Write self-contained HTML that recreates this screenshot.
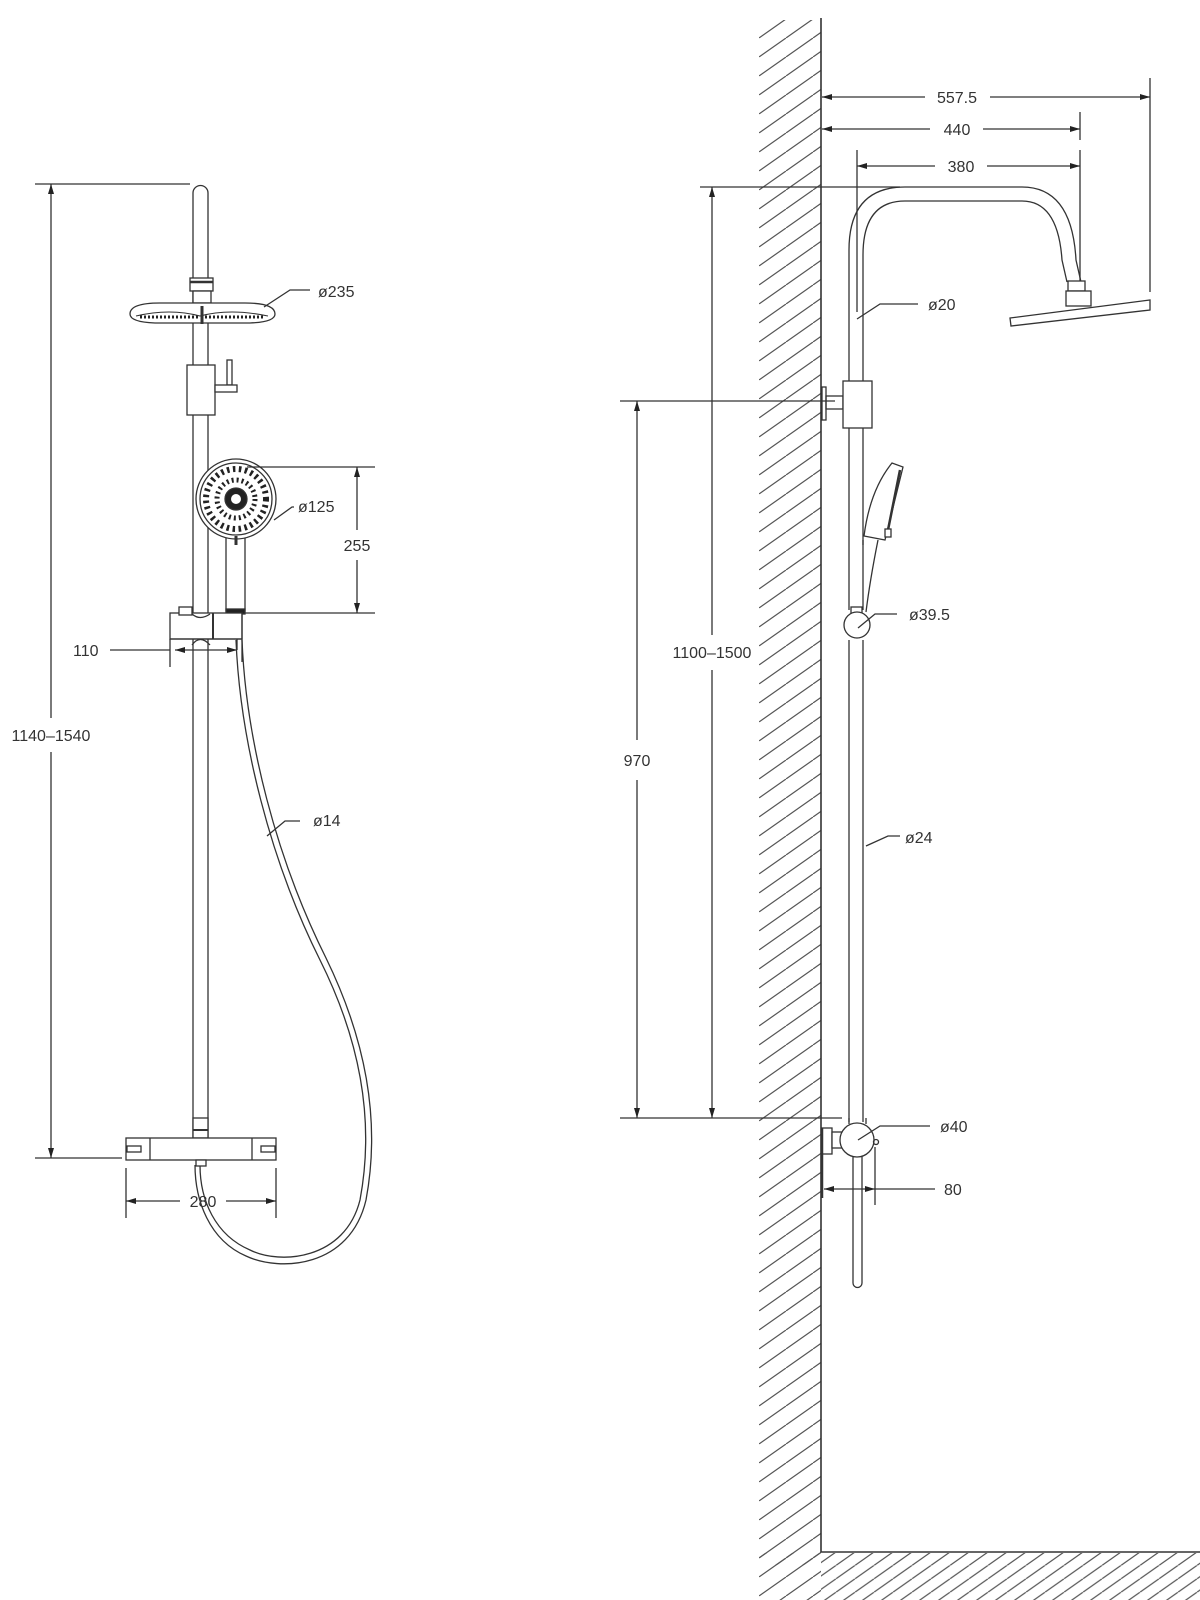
<!DOCTYPE html>
<html><head><meta charset="utf-8"><style>
html,body{margin:0;padding:0;background:#fff}
svg{display:block}
text{font-family:"Liberation Sans",sans-serif;font-size:16px;fill:#333}
</style></head><body>
<svg width="1200" height="1600" viewBox="0 0 1200 1600" xmlns="http://www.w3.org/2000/svg">
<defs>
<pattern id="hw" patternUnits="userSpaceOnUse" width="27" height="19" x="759" y="0">
<line x1="0" y1="19" x2="27" y2="0" stroke="#555" stroke-width="1.2"/>
<line x1="-27" y1="19" x2="0" y2="0" stroke="#555" stroke-width="1.2"/>
<line x1="27" y1="19" x2="54" y2="0" stroke="#555" stroke-width="1.2"/>
</pattern>
<pattern id="hf" patternUnits="userSpaceOnUse" width="19" height="13.4" x="0" y="1552">
<line x1="0" y1="13.4" x2="19" y2="0" stroke="#555" stroke-width="1.2"/>
<line x1="-19" y1="13.4" x2="0" y2="0" stroke="#555" stroke-width="1.2"/>
<line x1="19" y1="13.4" x2="38" y2="0" stroke="#555" stroke-width="1.2"/>
</pattern>
<marker id="ar" markerWidth="10" markerHeight="6" refX="10" refY="3" orient="auto-start-reverse" markerUnits="userSpaceOnUse">
<path d="M0,0 L10,3 L0,6 z" fill="#222"/>
</marker>
</defs>
<g fill="none" stroke="#333" stroke-width="1.3">
<!-- ========== LEFT VIEW ========== -->
<!-- overall dim -->
<line x1="35" y1="184" x2="190" y2="184"/>
<line x1="35" y1="1158" x2="122" y2="1158"/>
<line x1="51" y1="184" x2="51" y2="718" marker-start="url(#ar)"/>
<line x1="51" y1="752" x2="51" y2="1158" marker-end="url(#ar)"/>
<!-- rail -->
<path d="M193,1138 V193 A7.5,7.5 0 0 1 208,193 V1138"/>
<rect x="190" y="278" width="23" height="13" fill="#fff"/>
<line x1="190" y1="282" x2="213" y2="282" stroke-width="2.5"/>
<!-- rain head -->
<rect x="193" y="291" width="18" height="12" fill="#fff"/>
<path d="M130,314 Q130,303 160,303 L245,303 Q275,303 275,314 Q275,322 250,323 L155,323 Q130,322 130,314 Z" fill="#fff"/>
<path d="M136,316 Q170,308 200,316 Q230,308 268,316" stroke-width="1"/>
<g stroke="#222" stroke-width="3" stroke-dasharray="2 2">
<line x1="140" y1="317" x2="198" y2="317"/>
<line x1="205" y1="317" x2="265" y2="317"/>
</g>
<line x1="202" y1="306" x2="202" y2="324" stroke-width="3"/>
<!-- diverter -->
<rect x="187" y="365" width="28" height="50" fill="#fff"/>
<rect x="227" y="360" width="5" height="25" fill="#fff"/>
<rect x="215" y="385" width="22" height="7" fill="#fff"/>
<!-- hand shower -->
<path d="M226,534 L226,611 L245,611 L245,534" fill="#fff"/>
<circle cx="236" cy="499" r="40" fill="#fff"/>
<circle cx="236" cy="499" r="36"/>
<circle cx="236" cy="499" r="30" stroke="#222" stroke-width="6" stroke-dasharray="2.5 3.5"/>
<circle cx="236" cy="499" r="19" stroke="#222" stroke-width="5" stroke-dasharray="2 3"/>
<circle cx="236" cy="499" r="11" fill="#222"/>
<circle cx="236" cy="499" r="5" fill="#fff" stroke="none"/>
<line x1="236" y1="536" x2="236" y2="545" stroke-width="3"/>
<rect x="226" y="609" width="19" height="5" fill="#222"/>
<!-- 255 dim -->
<line x1="247" y1="467" x2="375" y2="467"/>
<line x1="245" y1="613" x2="375" y2="613"/>
<line x1="357" y1="467" x2="357" y2="530" marker-start="url(#ar)"/>
<line x1="357" y1="560" x2="357" y2="613" marker-end="url(#ar)"/>
<!-- slider -->
<rect x="170" y="613" width="72" height="26" fill="#fff"/>
<line x1="170" y1="639" x2="170" y2="667"/>
<line x1="237" y1="639" x2="237" y2="650"/>
<line x1="213" y1="613" x2="213" y2="639" stroke-width="2"/>
<line x1="170" y1="639" x2="242" y2="639"/>
<path d="M192,614 Q200,621 210,614" />
<path d="M192,645 Q200,634 210,645" />
<rect x="179" y="607" width="13" height="8" fill="#fff"/>
<line x1="242" y1="613" x2="242" y2="662"/>
<line x1="110" y1="650" x2="170" y2="650"/>
<line x1="175" y1="650" x2="237" y2="650" marker-start="url(#ar)" marker-end="url(#ar)"/>
<!-- hose -->
<path d="M236,640 C240,740 270,860 320,960 C360,1040 375,1120 360,1200 C345,1260 280,1265 250,1250 C215,1235 200,1200 200,1165" stroke-width="1.3"/>
<path d="M242,640 C246,740 276,858 326,958 C366,1040 381,1120 366,1200 C350,1268 280,1272 246,1256 C209,1240 195,1200 195,1165" stroke-width="1.3"/>
<!-- mixer -->
<rect x="193" y="1118" width="15" height="20" fill="#fff"/>
<line x1="193" y1="1130" x2="208" y2="1130" stroke-width="2"/>
<rect x="126" y="1138" width="150" height="22" fill="#fff"/>
<line x1="150" y1="1138" x2="150" y2="1160"/>
<line x1="252" y1="1138" x2="252" y2="1160"/>
<rect x="127" y="1146" width="14" height="6"/>
<rect x="261" y="1146" width="14" height="6"/>
<rect x="196" y="1160" width="10" height="6" fill="#fff"/>
<!-- 280 dim -->
<line x1="126" y1="1168" x2="126" y2="1218"/>
<line x1="276" y1="1168" x2="276" y2="1218"/>
<line x1="126" y1="1201" x2="180" y2="1201" marker-start="url(#ar)"/>
<line x1="226" y1="1201" x2="276" y2="1201" marker-end="url(#ar)"/>
<!-- leaders -->
<polyline points="264,307 290,290 310,290"/>
<polyline points="274,520 292,507 294,507"/>
<polyline points="267,836 285,821 300,821"/>

<!-- ========== RIGHT VIEW ========== -->
<rect x="759" y="20" width="62" height="1545" fill="url(#hw)" stroke="none"/>
<rect x="821" y="1553" width="379" height="47" fill="url(#hf)" stroke="none"/>
<rect x="759" y="1553" width="62" height="47" fill="url(#hw)" stroke="none"/>
<path d="M821,18 V1552 H1200" stroke-width="1.6"/>
<!-- top dims -->
<line x1="822" y1="97" x2="925" y2="97" marker-start="url(#ar)"/>
<line x1="990" y1="97" x2="1150" y2="97" marker-end="url(#ar)"/>
<line x1="1150" y1="78" x2="1150" y2="292"/>
<line x1="822" y1="129" x2="930" y2="129" marker-start="url(#ar)"/>
<line x1="983" y1="129" x2="1080" y2="129" marker-end="url(#ar)"/>
<line x1="1080" y1="112" x2="1080" y2="140"/>
<line x1="1080" y1="150" x2="1080" y2="302"/>
<line x1="857" y1="166" x2="935" y2="166" marker-start="url(#ar)"/>
<line x1="987" y1="166" x2="1080" y2="166" marker-end="url(#ar)"/>
<line x1="857" y1="150" x2="857" y2="312"/>
<!-- arm -->
<path d="M849,381 V250 Q849,187 905,187 L1022,187 Q1072,187 1076,260 L1081,282"/>
<path d="M863,381 V255 Q863,201 905,201 L1022,201 Q1058,201 1062,260 L1067,282"/>
<line x1="700" y1="187" x2="900" y2="187"/>
<rect x="1068" y="281" width="17" height="10" fill="#fff"/>
<rect x="1066" y="291" width="25" height="15" fill="#fff"/>
<path d="M1010,318 L1150,300 L1150,310 L1011,326 Z" fill="#fff"/>
<polyline points="857,319 880,304 918,304"/>
<!-- bracket block -->
<rect x="822" y="387" width="4" height="33"/>
<rect x="826" y="396" width="17" height="13"/>
<rect x="843" y="381" width="29" height="47" fill="#fff"/>
<line x1="620" y1="401" x2="835" y2="401"/>
<!-- rail -->
<line x1="849" y1="428" x2="849" y2="610"/>
<line x1="863" y1="428" x2="863" y2="610"/>
<line x1="849" y1="640" x2="849" y2="1122"/>
<line x1="863" y1="640" x2="863" y2="1122"/>
<!-- hand shower side -->
<path d="M864,536 Q870,490 892,463 L903,467 Q895,500 885,540 Z" fill="#fff"/>
<line x1="900" y1="470" x2="887" y2="535" stroke-width="2.5"/>
<rect x="885" y="529" width="6" height="8" fill="#fff"/>
<path d="M878,540 Q870,580 866,612"/>
<line x1="863" y1="540" x2="863" y2="545"/>
<rect x="851" y="607" width="11" height="7" fill="#fff"/>
<circle cx="857" cy="625" r="13" fill="#fff"/>
<polyline points="858,628 875,614 897,614"/>
<polyline points="866,846 888,836 900,836"/>
<!-- 1100-1500 and 970 dims -->
<line x1="712" y1="187" x2="712" y2="635" marker-start="url(#ar)"/>
<line x1="712" y1="670" x2="712" y2="1118" marker-end="url(#ar)"/>
<line x1="637" y1="401" x2="637" y2="740" marker-start="url(#ar)"/>
<line x1="637" y1="780" x2="637" y2="1118" marker-end="url(#ar)"/>
<line x1="620" y1="1118" x2="842" y2="1118"/>
<!-- bottom ball -->
<rect x="822" y="1128" width="10" height="26" fill="#fff"/>
<rect x="832" y="1132" width="11" height="16" fill="#fff"/>
<path d="M853,1283 V1155 M862,1155 V1283 A4.5,4.5 0 0 1 853,1283"/>
<circle cx="857" cy="1140" r="17" fill="#fff"/>
<path d="M849,1124 V1118 M866,1124 V1118"/>
<circle cx="876" cy="1142" r="2.5"/>
<polyline points="858,1140 880,1126 930,1126"/>
<line x1="875" y1="1147" x2="875" y2="1205"/>
<line x1="824" y1="1189" x2="875" y2="1189" marker-start="url(#ar)" marker-end="url(#ar)"/>
<line x1="875" y1="1189" x2="935" y2="1189"/>
<line x1="822" y1="1128" x2="822" y2="1198" stroke-width="2.5"/>
</g>
<!-- labels -->
<text x="51" y="741" text-anchor="middle">1140–1540</text>
<text x="73" y="656">110</text>
<text x="318" y="297">ø235</text>
<text x="298" y="512">ø125</text>
<text x="357" y="551" text-anchor="middle">255</text>
<text x="313" y="826">ø14</text>
<text x="203" y="1207" text-anchor="middle">280</text>
<text x="957" y="103" text-anchor="middle">557.5</text>
<text x="957" y="135" text-anchor="middle">440</text>
<text x="961" y="172" text-anchor="middle">380</text>
<text x="928" y="310">ø20</text>
<text x="712" y="658" text-anchor="middle">1100–1500</text>
<text x="637" y="766" text-anchor="middle">970</text>
<text x="909" y="620">ø39.5</text>
<text x="905" y="843">ø24</text>
<text x="940" y="1132">ø40</text>
<text x="944" y="1195">80</text>
</svg>
</body></html>
